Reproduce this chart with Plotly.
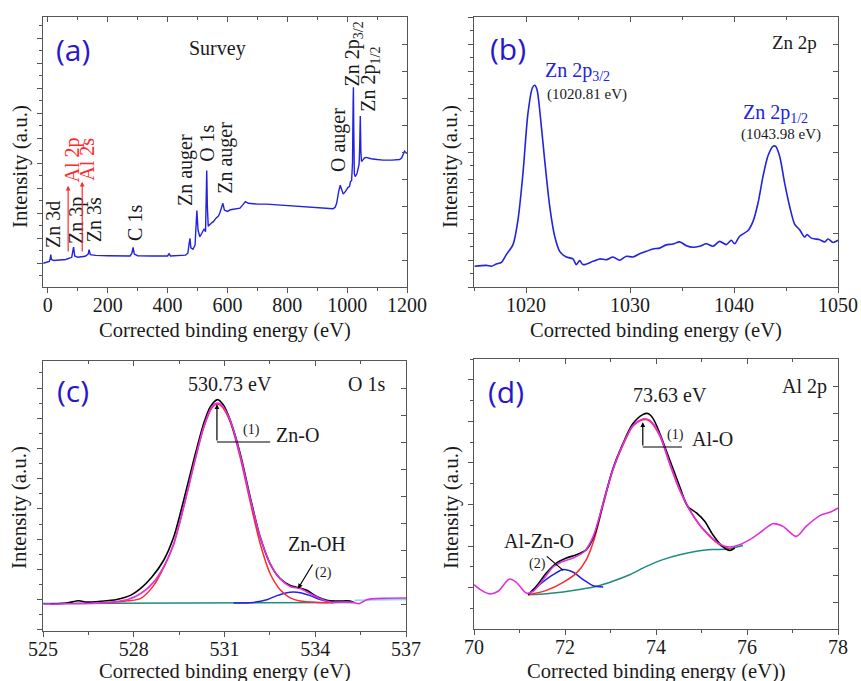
import plotly.graph_objects as go

# ---------------- data ----------------
# (a) survey spectrum
survey_ev = [-15, 0, 5, 8, 10, 12, 20, 60, 70, 80, 86, 90, 100, 118, 125, 135, 138, 142, 160, 200,
             275, 281, 285, 289, 300, 350, 400, 405, 410, 460, 468, 472, 475, 478, 485, 492, 495, 498,
             502, 508, 515, 522, 527, 530, 531, 533, 536, 545, 553, 562, 570, 575, 581, 585, 590, 600,
             610, 620, 642, 652, 660, 670, 700, 731, 780, 842, 900, 953, 960, 965, 972, 977, 982, 987,
             995, 1003, 1008, 1011, 1015, 1018, 1020, 1021, 1022, 1024, 1027, 1030, 1033, 1038, 1040,
             1042, 1044, 1046, 1048, 1052, 1058, 1064, 1080, 1100, 1120, 1150, 1175, 1182, 1188, 1192,
             1196, 1200]
survey_int = [0.88, 0.92, 0.95, 1.05, 1.20, 1.02, 0.98, 1.02, 1.05, 1.10, 1.48, 1.15, 1.10, 1.12, 1.14,
              1.22, 1.38, 1.20, 1.17, 1.16, 1.15, 1.25, 1.47, 1.22, 1.16, 1.15, 1.15, 1.23, 1.15, 1.18,
              1.25, 1.60, 1.80, 1.45, 1.40, 1.55, 2.20, 2.83, 2.10, 1.86, 2.00, 2.15, 2.05, 3.50, 4.31,
              3.00, 2.25, 2.35, 2.42, 2.55, 2.63, 2.75, 3.00, 3.10, 2.85, 2.80, 2.86, 2.88, 2.92, 3.05,
              3.16, 3.10, 3.07, 3.07, 3.03, 2.97, 2.93, 2.90, 2.95, 3.10, 3.55, 3.77, 3.60, 3.44, 3.55,
              3.69, 3.72, 3.90, 3.95, 4.60, 6.80, 7.40, 6.00, 4.20, 4.09, 4.15, 4.20, 4.45, 4.55, 5.20,
              6.33, 5.00, 4.65, 4.70, 4.78, 4.80, 4.75, 4.72, 4.70, 4.70, 4.72, 4.78, 4.95, 5.03, 4.97,
              4.95]

# (b) Zn 2p
zn2p_ev = [1015.06, 1016.19, 1016.67, 1017.15, 1017.63, 1018.11, 1018.75, 1019.23, 1019.71, 1020.19,
           1020.61, 1020.83, 1021.06, 1021.38, 1021.79, 1022.28, 1022.76, 1023.24, 1023.88, 1024.52,
           1024.84, 1025.16, 1025.48, 1026.44, 1027.08, 1027.72, 1028.37, 1029.0, 1029.65, 1030.29,
           1030.93, 1031.57, 1032.21, 1032.85, 1033.49, 1034.13, 1034.78, 1035.42, 1036.06, 1036.70,
           1037.34, 1037.98, 1038.62, 1039.26, 1039.74, 1040.06, 1040.54, 1041.35, 1041.83, 1042.31,
           1042.79, 1043.27, 1043.75, 1044.01, 1044.39, 1044.87, 1045.35, 1045.83, 1046.31, 1046.79,
           1047.02, 1047.44, 1048.24, 1048.72, 1049.04, 1049.52, 1050.0]
zn2p_int = [0.77, 0.80, 0.77, 0.85, 0.91, 1.20, 1.57, 2.49, 4.22, 6.44, 7.37, 7.47, 7.31, 6.32, 4.72,
            2.99, 1.88, 1.32, 1.11, 1.04, 0.83, 0.98, 0.83, 0.95, 1.04, 1.01, 1.11, 0.99, 1.14, 1.11,
            1.23, 1.32, 1.41, 1.44, 1.56, 1.59, 1.67, 1.53, 1.47, 1.51, 1.60, 1.51, 1.69, 1.57, 1.73,
            1.60, 1.88, 2.09, 2.43, 3.11, 4.10, 4.86, 5.21, 5.21, 4.84, 3.85, 2.99, 2.33, 2.12, 1.85,
            1.94, 1.81, 1.75, 1.67, 1.78, 1.65, 1.73]

# (c) O 1s
o1s_exp_ev = [525.24, 525.79, 526.18, 526.45, 526.89, 527.44, 527.89, 528.22, 528.60, 528.99, 529.32,
              529.65, 529.98, 530.31, 530.53, 530.77, 530.97, 531.19, 531.52, 531.85, 532.18, 532.51,
              532.84, 533.17, 533.50, 533.72, 534.05, 534.38, 534.71, 535.15, 535.26]
o1s_exp_int = [1.01, 1.04, 1.12, 1.07, 1.10, 1.17, 1.32, 1.57, 2.00, 2.62, 3.48, 4.84, 6.32, 7.68, 8.30,
               8.57, 8.36, 7.80, 6.57, 4.96, 3.48, 2.49, 1.94, 1.69, 1.59, 1.51, 1.28, 1.14, 1.11, 1.11,
               1.07]
o1s_env_ev = [525.02, 525.79, 526.89, 527.78, 528.22, 528.66, 529.04, 529.32, 529.65, 529.98, 530.31,
              530.58, 530.75, 530.91, 531.19, 531.52, 531.85, 532.18, 532.51, 532.84, 533.17, 533.50,
              533.83, 534.16, 534.49, 534.93, 535.26, 535.43, 535.59, 535.70, 536.26, 537.0]
o1s_env_int = [0.99, 1.01, 1.04, 1.16, 1.38, 1.81, 2.49, 3.23, 4.59, 6.14, 7.56, 8.30, 8.44, 8.36, 7.80,
               6.51, 4.90, 3.48, 2.49, 1.94, 1.65, 1.57, 1.38, 1.20, 1.07, 1.07, 1.06, 1.01, 1.09, 1.16,
               1.21, 1.22]
o1s_p1_ev = [527.0, 527.8, 528.22, 528.66, 529.04, 529.32, 529.65, 529.98, 530.31, 530.58, 530.75,
             530.91, 531.19, 531.52, 531.85, 532.18, 532.51, 532.84, 533.17, 533.50, 534.05, 534.60]
o1s_p1_int = [1.04, 1.12, 1.20, 1.69, 2.47, 3.21, 4.59, 6.11, 7.52, 8.26, 8.41, 8.32, 7.74, 6.42, 4.78,
              3.23, 2.12, 1.53, 1.23, 1.11, 1.06, 1.05]
o1s_p2_ev = [531.30, 531.96, 532.40, 532.73, 533.06, 533.28, 533.50, 533.83, 534.16, 534.60]
o1s_p2_int = [1.04, 1.06, 1.16, 1.31, 1.42, 1.44, 1.42, 1.31, 1.17, 1.07]
o1s_bg_ev = [525.0, 535.3]
o1s_bg_int = [1.02, 1.06]
o1s_bg2_ev = [535.3, 537.0]
o1s_bg2_int = [1.14, 1.17]

# (d) Al 2p
al_env_ev = [70.00, 70.12, 70.34, 70.53, 70.78, 70.93, 71.15, 71.30, 71.52, 71.74, 71.96, 72.18, 72.43,
             72.62, 72.84, 73.05, 73.27, 73.49, 73.71, 73.86, 74.08, 74.30, 74.52, 74.74, 74.96, 75.18,
             75.36, 75.58, 75.84, 76.06, 76.28, 76.57, 76.79, 77.08, 77.30, 77.60, 77.82, 78.00]
al_env_int = [1.64, 1.48, 1.30, 1.40, 1.85, 1.73, 1.33, 1.40, 1.83, 2.30, 2.51, 2.63, 2.88, 3.43, 4.67,
              5.90, 6.83, 7.53, 7.78, 7.73, 7.20, 6.15, 5.16, 4.42, 3.86, 3.46, 3.19, 3.04, 3.12, 3.31,
              3.56, 3.90, 3.80, 3.43, 3.80, 4.20, 4.32, 4.48]
al_exp_ev = [71.19, 71.37, 71.59, 71.81, 72.03, 72.25, 72.47, 72.65, 72.84, 73.05, 73.27, 73.49, 73.71,
             73.82, 73.93, 74.08, 74.30, 74.52, 74.70, 74.89, 75.07, 75.25, 75.44, 75.62, 75.73]
al_exp_int = [1.27, 1.58, 2.07, 2.44, 2.63, 2.75, 2.94, 3.49, 4.67, 5.93, 6.86, 7.60, 7.94, 7.98, 7.81,
              7.26, 6.27, 5.28, 4.54, 4.30, 3.99, 3.49, 3.09, 2.91, 3.00]
al_p1_ev = [71.19, 71.59, 71.96, 72.25, 72.47, 72.65, 72.84, 73.05, 73.27, 73.49, 73.71, 73.86, 74.08,
            74.30, 74.52, 74.74, 74.96, 75.18, 75.40, 75.62]
al_p1_int = [1.27, 1.43, 1.73, 2.07, 2.57, 3.37, 4.60, 5.88, 6.79, 7.51, 7.75, 7.70, 7.16, 6.12, 5.14,
             4.40, 3.84, 3.43, 3.12, 2.96]
al_p2_ev = [71.19, 71.44, 71.74, 71.96, 72.18, 72.40, 72.62, 72.84]
al_p2_int = [1.27, 1.64, 2.01, 2.20, 2.10, 1.83, 1.60, 1.56]
al_bg_ev = [71.19, 71.59, 71.96, 72.32, 72.69, 73.05, 73.42, 73.79, 74.15, 74.52, 74.89, 75.25, 75.58,
            75.91]
al_bg_int = [1.27, 1.31, 1.37, 1.46, 1.58, 1.77, 2.01, 2.32, 2.57, 2.75, 2.88, 2.94, 2.96, 3.09]

# tick labels
a_ticks = [0, 200, 400, 600, 800, 1000, 1200]
b_ticks = [1020, 1030, 1040, 1050]
c_ticks = [525, 528, 531, 534, 537]
d_ticks = [70, 72, 74, 76, 78]

# ---------------- styling ----------------
SERIF = "Liberation Serif"
SANS = "Open Sans"
BLUE = "#2222e0"
LBL = "#2a18c8"
RED = "#ff2a2a"
MAG = "#e030e0"
TEAL = "#208a80"
AX = "#555555"
TXT = "#1a1a1a"

W, H = 861, 681
def px_x(p):
    return p / W
def px_y(p):
    return 1 - p / H

panels = {
    1: dict(xd=[px_x(43), px_x(407)], yd=[px_y(287), px_y(17)], xr=[-16, 1200], ticks=a_ticks,
            xminor=100, ly=(0.876, 0.926)),
    2: dict(xd=[px_x(474), px_x(838)], yd=[px_y(287), px_y(17)], xr=[1015, 1050], ticks=b_ticks,
            xminor=5, ly=(0.0, 1.0)),
    3: dict(xd=[px_x(43), px_x(406)], yd=[px_y(631), px_y(361)], xr=[525, 537], ticks=c_ticks,
            xminor=1.5, ly=(0.04, 1.12)),
    4: dict(xd=[px_x(474), px_x(838)], yd=[px_y(629), px_y(359)], xr=[70, 78], ticks=d_ticks,
            xminor=1, ly=(1.53, 1.54)),
}

fig = go.Figure()

def xa(n):
    return "x" if n == 1 else f"x{n}"
def ya(n):
    return "y" if n == 1 else f"y{n}"

layout = {}
for n, p in panels.items():
    sfx = "" if n == 1 else str(n)
    layout[f"xaxis{sfx}"] = dict(
        domain=p["xd"], range=p["xr"], anchor=ya(n), tickmode="array", tickvals=p["ticks"],
        ticks="outside", ticklen=5, tickcolor=AX, showline=True, linecolor=AX, linewidth=1.2,
        mirror=True, showgrid=False, zeroline=False, automargin=False, ticklabelstandoff=-5,
        tickfont=dict(family=SERIF, size=20, color=TXT),
        minor=dict(ticks="outside", ticklen=3, dtick=p["xminor"], tick0=p["ticks"][0], tickcolor=AX),
    )
    layout[f"yaxis{sfx}"] = dict(
        domain=p["yd"], range=[0, 10], anchor=xa(n), tickmode="linear", tick0=p["ly"][0],
        dtick=p["ly"][1], ticks="outside", ticklen=5, tickcolor=AX, showticklabels=False,
        showline=True, linecolor=AX, linewidth=1.2, mirror=True, showgrid=False, zeroline=False,
        automargin=False,
        minor=dict(ticks="outside", ticklen=3, dtick=p["ly"][1] / 2, tick0=p["ly"][0], tickcolor=AX),
    )
    # overlay axes for inward ticks on top and right
    o = n + 4
    layout[f"xaxis{o}"] = dict(
        overlaying=xa(n), side="top", anchor=ya(n), range=p["xr"], tickmode="array",
        tickvals=p["ticks"], ticks="inside", ticklen=5, tickcolor=AX, showticklabels=False,
        showline=False, showgrid=False, zeroline=False, automargin=False,
        minor=dict(ticks="inside", ticklen=3, dtick=p["xminor"], tick0=p["ticks"][0], tickcolor=AX),
    )
    layout[f"yaxis{o}"] = dict(
        overlaying=ya(n), side="right", anchor=xa(n), range=[0, 10], tickmode="linear", tick0=0,
        dtick=1, ticks="inside", ticklen=5, tickcolor=AX, showticklabels=False, showline=False,
        showgrid=False, zeroline=False, automargin=False,
    )
    fig.add_trace(go.Scatter(x=[], y=[], xaxis=f"x{o}", yaxis=f"y{o}", showlegend=False,
                             hoverinfo="skip"))

def line(n, x, y, color, width=1.5, shape="spline"):
    fig.add_trace(go.Scatter(x=x, y=y, mode="lines", xaxis=xa(n), yaxis=ya(n), showlegend=False,
                             line=dict(color=color, width=width, shape=shape, smoothing=0.8)))

line(1, survey_ev, survey_int, BLUE, 1.4, "linear")
line(2, zn2p_ev, zn2p_int, BLUE, 1.6)
line(3, o1s_bg_ev, o1s_bg_int, TEAL, 1.5, "linear")
line(3, o1s_bg2_ev, o1s_bg2_int, "#7fe0e8", 1.5, "linear")
line(3, o1s_p2_ev, o1s_p2_int, BLUE, 1.5)
line(3, o1s_p1_ev, o1s_p1_int, RED, 1.5)
line(3, o1s_exp_ev, o1s_exp_int, "black", 1.6)
line(3, o1s_env_ev, o1s_env_int, MAG, 1.6)
line(4, al_bg_ev, al_bg_int, TEAL, 1.5)
line(4, al_p2_ev, al_p2_int, BLUE, 1.5)
line(4, al_p1_ev, al_p1_int, RED, 1.5)
line(4, al_exp_ev, al_exp_int, "black", 1.6)
line(4, al_env_ev, al_env_int, MAG, 1.6)

ann = []
def text(n, x, y, t, size=20, color=TXT, angle=0, family=SERIF, xanchor="center"):
    ann.append(dict(x=x, y=y, xref=xa(n), yref=ya(n), text=t, showarrow=False, textangle=angle,
                    xanchor=xanchor, yanchor="middle", font=dict(family=family, size=size, color=color)))

def arrow(n, x0, y0, x1, y1, color="black", head=2):
    ann.append(dict(x=x1, y=y1, ax=x0, ay=y0, xref=xa(n), yref=ya(n), axref=xa(n), ayref=ya(n),
                    text="", showarrow=True, arrowhead=head, arrowsize=0.8, arrowwidth=1.2,
                    arrowcolor=color))

shapes = []
def seg(n, x0, y0, x1, y1, color="black"):
    shapes.append(dict(type="line", xref=xa(n), yref=ya(n), x0=x0, y0=y0, x1=x1, y1=y1,
                       line=dict(color=color, width=1.2)))

# panel labels
text(1, 84, 8.78, "(a)", 30, LBL, family=SANS)
text(2, 1018.3, 8.85, "(b)", 30, LBL, family=SANS)
text(3, 526.0, 8.91, "(c)", 30, LBL, family=SANS)
text(4, 70.71, 8.80, "(d)", 30, LBL, family=SANS)

# (a)
text(1, 568, 8.85, "Survey", 20)
text(1, 18, 2.30, "Zn 3d", 20, angle=-90)
text(1, 94, 2.48, "Zn 3p", 20, angle=-90)
text(1, 155, 2.48, "Zn 3s", 20, angle=-90)
text(1, 84, 4.72, "Al 2p", 20, RED, angle=-90)
text(1, 128, 4.72, "Al 2s", 20, RED, angle=-90)
arrow(1, 68, 1.26, 68, 3.75, RED)
arrow(1, 115, 1.26, 115, 3.9, RED)
text(1, 291, 2.37, "C 1s", 20, angle=-90)
text(1, 458, 4.33, "Zn auger", 20, angle=-90)
text(1, 531, 5.33, "O 1s", 20, angle=-90)
text(1, 595, 4.78, "Zn auger", 20, angle=-90)
text(1, 969, 5.44, "O auger", 20, angle=-90)
text(1, 1020, 8.62, "Zn 2p<sub>3/2</sub>", 20, angle=-90)
text(1, 1075, 7.70, "Zn 2p<sub>1/2</sub>", 20, angle=-90)

# (b)
text(2, 1045.8, 9.04, "Zn 2p", 19)
text(2, 1021.6, 7.99, "Zn 2p<sub>3/2</sub>", 20, BLUE, xanchor="left")
text(2, 1021.8, 7.12, "(1020.81 eV)", 15, TXT, xanchor="left")
text(2, 1040.7, 6.44, "Zn 2p<sub>1/2</sub>", 20, BLUE, xanchor="left")
text(2, 1040.5, 5.64, "(1043.98 eV)", 15, TXT, xanchor="left")

# (c)
text(3, 531.19, 9.16, "530.73 eV", 20)
text(3, 535.68, 9.16, "O 1s", 20)
arrow(3, 530.75, 7.0, 530.75, 8.40)
seg(3, 530.75, 7.0, 532.51, 7.0)
text(3, 531.9, 7.45, "(1)", 14)
text(3, 533.41, 7.25, "Zn-O", 20)
text(3, 534.05, 3.23, "Zn-OH", 20)
text(3, 534.28, 2.15, "(2)", 14)
arrow(3, 533.94, 2.52, 533.43, 1.57)

# (d)
text(4, 77.27, 8.99, "Al 2p", 20)
text(4, 74.30, 8.68, "73.63 eV", 20)
arrow(4, 73.71, 6.74, 73.71, 7.66)
seg(4, 73.71, 6.74, 74.57, 6.74)
text(4, 74.43, 7.2, "(1)", 14)
text(4, 75.24, 7.04, "Al-O", 20)
text(4, 71.43, 3.25, "Al-Zn-O", 20)
text(4, 71.40, 2.41, "(2)", 14)
seg(4, 71.60, 2.69, 71.96, 2.17)

# axis titles
xtitles = ["Corrected binding energy (eV)", "Corrected binding energy (eV)",
           "Corrected binding energy (eV)", "Corrected binding energy (eV))"]
for t, (xc, yc) in zip(xtitles, [((43 + 407) / 2, 330), ((474 + 838) / 2, 330),
                                 ((43 + 406) / 2, 671), ((474 + 838) / 2, 671)]):
    ann.append(dict(x=px_x(xc), y=px_y(yc), xref="paper", yref="paper", showarrow=False,
                    text=t, xanchor="center", yanchor="middle",
                    font=dict(family=SERIF, size=20.5, color=TXT)))
for xc, yc in [(20, 167), (450, 167), (19, 508), (451, 508)]:
    ann.append(dict(x=px_x(xc), y=px_y(yc), xref="paper", yref="paper", showarrow=False,
                    text="Intensity (a.u.)", textangle=-90, xanchor="center", yanchor="middle",
                    font=dict(family=SERIF, size=21, color=TXT)))

fig.update_layout(
    width=W, height=H, margin=dict(l=0, r=0, t=0, b=0), autosize=False,
    paper_bgcolor="white", plot_bgcolor="white", showlegend=False,
    annotations=ann, shapes=shapes, **layout,
)

fig.write_html("out.html")
